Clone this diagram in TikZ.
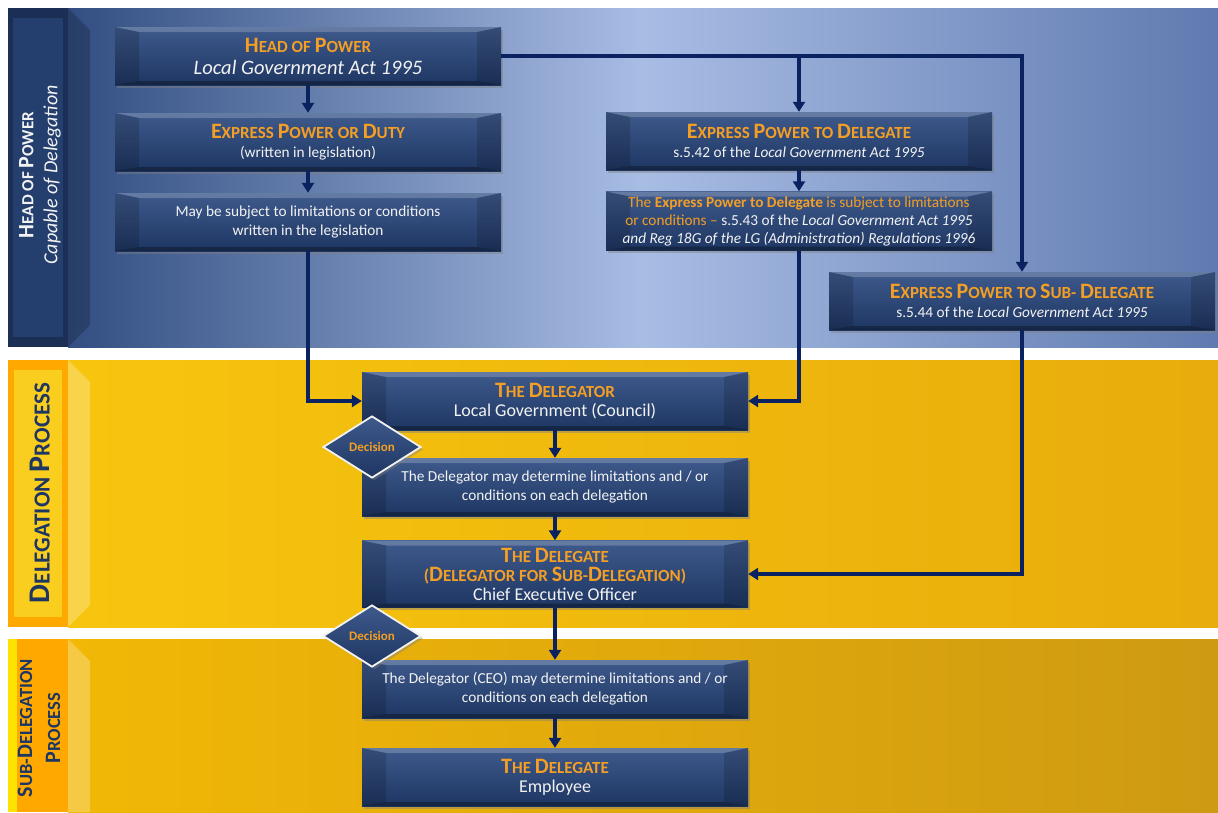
\documentclass[tikz,border=0pt]{standalone}
\usepackage{fontspec}
\setmainfont{Carlito}
\usetikzlibrary{arrows.meta,shapes.geometric,shadows,calc}

\definecolor{navy}{RGB}{30,54,98}
\definecolor{navytop}{RGB}{62,90,140}
\definecolor{wire}{RGB}{10,34,96}
\definecolor{gold}{RGB}{243,158,36}
\definecolor{paper}{RGB}{242,242,242}
\definecolor{skyA}{RGB}{50,78,130}
\definecolor{skyB}{RGB}{168,189,228}
\definecolor{skyC}{RGB}{96,122,176}
\definecolor{sunA}{RGB}{247,197,14}
\definecolor{sunB}{RGB}{232,172,12}
\definecolor{sunC}{RGB}{242,184,6}
\definecolor{sunD}{RGB}{206,154,18}
\definecolor{tagblue}{RGB}{36,62,110}
\definecolor{tagyellow}{RGB}{250,206,30}
\definecolor{tagorange}{RGB}{255,168,0}

\newcommand{\tcap}[1]{{\fontsize{22}{24}\selectfont #1}}
\newcommand{\dcap}[1]{{\fontsize{30}{32}\selectfont #1}}
\newcommand{\boxhead}[1]{\textcolor{gold}{\bfseries\fontsize{17}{22}\selectfont #1}}
\newcommand{\bevel}{%
  \path (path picture bounding box.north west) coordinate (bnw)
        (path picture bounding box.north east) coordinate (bne)
        (path picture bounding box.south west) coordinate (bsw)
        (path picture bounding box.south east) coordinate (bse);
  \fill[white,opacity=0.2] (bnw) -- (bne) -- ($(bne)+(-24pt,-5pt)$) -- ($(bnw)+(24pt,-5pt)$) -- cycle;
  \fill[black,opacity=0.15] (bnw) -- ($(bnw)+(24pt,-5pt)$) -- ($(bsw)+(24pt,4pt)$) -- (bsw) -- cycle;
  \fill[black,opacity=0.15] (bne) -- ($(bne)+(-24pt,-5pt)$) -- ($(bse)+(-24pt,4pt)$) -- (bse) -- cycle;
  \fill[black,opacity=0.3] (bsw) -- ($(bsw)+(24pt,4pt)$) -- ($(bse)+(-24pt,4pt)$) -- (bse) -- cycle;}

\tikzstyle{box}=[rectangle, top color=navytop, bottom color=navy, minimum width=386pt, minimum height=58pt, inner sep=2pt, align=center, text=paper, font=\fontsize{15.3}{19}\selectfont, drop shadow={shadow xshift=1.5pt, shadow yshift=-2.5pt, opacity=0.45}, path picture={\bevel}]
\tikzstyle{decision}=[diamond, aspect=1.6, minimum width=98pt, minimum height=62pt, inner sep=0pt, top color=navytop, bottom color=navy, draw=paper, line width=1.8pt, text=gold, font=\bfseries\fontsize{13}{15}\selectfont, drop shadow={opacity=0.4}]
\tikzstyle{conn}=[draw=wire, line width=3.5pt, -{Triangle[length=10pt,width=12pt]}]

\begin{document}
\begin{tikzpicture}[x=1pt,y=-1pt]
  \useasboundingbox (0,0) rectangle (1218,812);
  \fill[white] (0,0) rectangle (1218,812);
  % the three bands
  \shade[left color=skyA, right color=skyC, middle color=skyB] (68,8) rectangle (1218,347);
  \fill[black,opacity=0.2] (68,8) -- (90,30) -- (90,325) -- (68,347) -- cycle;
  \fill[tagblue!75!black] (8,8) rectangle (68,347);
  \fill[tagblue] (13,18) rectangle (63,337);
  \shade[left color=sunA, right color=sunB] (68,360) rectangle (1218,627);
  \fill[white,opacity=0.25] (68,360) -- (90,382) -- (90,605) -- (68,627) -- cycle;
  \fill[tagorange] (8,360) rectangle (68,627);
  \fill[tagyellow] (14,370) rectangle (62,617);
  \shade[left color=sunC, right color=sunD] (68,639) rectangle (1218,812);
  \fill[white,opacity=0.25] (68,639) -- (90,661) -- (90,812) -- (68,812) -- cycle;
  \fill[tagorange] (8,639) rectangle (68,812);
  \fill[yellow!85!orange] (8,639) rectangle (17,812);
  % band labels
  \node[rotate=90, text=paper, align=center, font=\fontsize{20}{24}\selectfont] (tagA) at (40,175) {{\bfseries\fontsize{17}{24}\selectfont\tcap{H}EAD OF \tcap{P}OWER}\\\textit{Capable of Delegation}};
  \node[rotate=90, text=navy, font=\bfseries\fontsize{23}{26}\selectfont] (tagB) at (40,493) {\dcap{D}ELEGATION \dcap{P}ROCESS};
  \node[rotate=90, text=navy, align=center, font=\bfseries\fontsize{18.5}{28}\selectfont] (tagC) at (39,728) {\tcap{S}UB-\tcap{D}ELEGATION\\\tcap{P}ROCESS};
  % boxes
  \node[box] (hop) at (308,56) {\boxhead{\tcap{H}EAD OF \tcap{P}OWER}\\[3pt]{\fontsize{20.5}{22}\selectfont\itshape Local Government Act 1995}};
  \node[box] (epd) at (308,142) {\boxhead{\tcap{E}XPRESS \tcap{P}OWER OR \tcap{D}UTY}\\(written in legislation)};
  \node[box] (lim) at (308,222) {May be subject to limitations or conditions\\written in the legislation};
  \node[box] (epdel) at (799,141) {\boxhead{\tcap{E}XPRESS \tcap{P}OWER TO \tcap{D}ELEGATE}\\s.5.42 of the \textit{Local Government Act 1995}};
  \node[box, minimum height=59pt, font=\fontsize{15.3}{18}\selectfont] (elim) at (799,221) {\textcolor{gold}{The \textbf{Express Power to Delegate} is subject to limitations}\\\textcolor{gold}{or conditions –} s.5.43 of the \textit{Local Government Act 1995}\\\textit{and Reg 18G of the LG (Administration) Regulations 1996}};
  \node[box] (esub) at (1022,301) {\boxhead{\tcap{E}XPRESS \tcap{P}OWER TO \tcap{S}UB- \tcap{D}ELEGATE}\\s.5.44 of the \textit{Local Government Act 1995}};
  \node[box] (dlg) at (555,401) {\boxhead{\tcap{T}HE \tcap{D}ELEGATOR}\\{\fontsize{18}{20}\selectfont Local Government (Council)}};
  \node[box] (dlim) at (555,487) {The Delegator may determine limitations and / or\\conditions on each delegation};
  \node[box, minimum height=67pt] (dgt) at (555,574) {\boxhead{\tcap{T}HE \tcap{D}ELEGATE}\\\boxhead{(\tcap{D}ELEGATOR FOR \tcap{S}UB-\tcap{D}ELEGATION)}\\{\fontsize{18}{20}\selectfont Chief Executive Officer}};
  \node[box] (slim) at (555,689) {The Delegator (CEO) may determine limitations and / or\\conditions on each delegation};
  \node[box] (emp) at (555,777) {\boxhead{\tcap{T}HE \tcap{D}ELEGATE}\\{\fontsize{18}{20}\selectfont Employee}};
  % connectors
  \foreach \source/\dest in {hop/epd, epd/lim, epdel/elim, dlg/dlim, dlim/dgt, dgt/slim, slim/emp}
    \path[conn] (\source.south) -- (\dest.north);
  \path[conn] (hop.east) -| (esub.north);
  \path[conn] (hop.east -| epdel.north) -- (epdel.north);
  \path[conn] (lim.south) |- (dlg.west);
  \path[conn] (elim.south) |- (dlg.east);
  \path[conn] (esub.south) |- (dgt.east);
  % decisions
  \node[decision] (dec1) at (372,447) {Decision};
  \node[decision] (dec2) at (372,636) {Decision};
\end{tikzpicture}
\end{document}
